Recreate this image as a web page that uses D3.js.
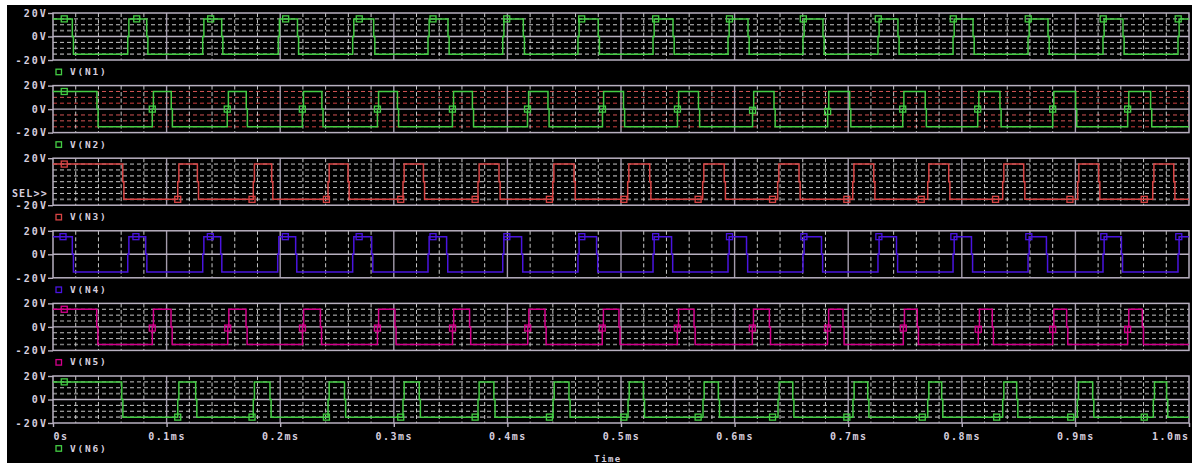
<!DOCTYPE html>
<html>
<head>
<meta charset="utf-8">
<script src="https://cdn.jsdelivr.net/npm/d3@7/dist/d3.min.js"></script>
<style>
  body { margin: 0; background: #fff; }
  svg { display: block; }
  text { font-family: "DejaVu Sans Mono", monospace; font-weight: bold; fill: #d6cede; }
</style>
</head>
<body>
<div id="chart"></div>
<script>
// times in microseconds, voltages in volts
const timeTicks = [0, 100, 200, 300, 400, 500, 600, 700, 800, 900, 1000];
const timeLabels = ["0s", "0.1ms", "0.2ms", "0.3ms", "0.4ms", "0.5ms", "0.6ms", "0.7ms", "0.8ms", "0.9ms", "1.0ms"];
const voltTicks = [20, 0, -20];
const voltLabels = ["20V", "0V", "-20V"];
const gridVolts = [15, 10, 5, -5, -10, -15];
const names = ["V(N1)", "V(N2)", "V(N3)", "V(N4)", "V(N5)", "V(N6)"];
const colors = ["#44cc44", "#44cc44", "#d84444", "#4a14e0", "#d4008c", "#44cc44"];

// switching instants, every trace starts high (+15V) and toggles at each time
const n1Edges = [17.0, 65.8, 82.5, 131.8, 148.5, 198.3, 215.2, 263.8, 282.3, 330.1, 347.7, 395.9, 414.0, 462.1, 480.0,
  528.2, 545.8, 594.2, 611.8, 660.2, 677.8, 726.2, 743.8, 792.3, 809.9, 858.3, 875.9, 924.3, 941.9, 990.3];
const n2Edges = [38.7, 87.4, 104.1, 153.4, 170.1, 219.5, 236.7, 285.6, 303.2, 351.6, 369.2, 417.7, 435.7, 483.7, 502.2,
  549.7, 568.2, 615.8, 634.7, 681.9, 701.3, 748.0, 767.8, 814.0, 833.6, 880.0, 900.2, 946.0, 966.2];
const n3Edges = [61.4, 109.8, 127.1, 176.3, 192.5, 242.1, 259.7, 308.1, 326.1, 374.1, 392.6, 439.9, 458.7, 505.9, 525.3,
  571.9, 590.9, 637.9, 656.7, 704.0, 722.5, 770.0, 788.5, 836.0, 854.5, 902.0, 920.5, 968.1, 986.6];
const n4Edges = [17.0, 65.8, 81.6, 131.8, 147.6, 197.8, 213.6, 263.8, 280.5, 330.1, 346.5, 395.9, 412.5, 462.1, 478.5,
  528.2, 544.5, 594.2, 610.5, 660.2, 676.5, 726.2, 742.5, 792.3, 808.5, 858.3, 874.5, 924.3, 940.5, 990.3];
const n5Edges = [38.5, 87.4, 103.9, 153.8, 169.9, 219.6, 235.4, 285.6, 301.0, 351.7, 366.7, 417.9, 433.1, 483.5, 498.2,
  549.6, 564.3, 615.6, 630.6, 681.8, 695.4, 748.5, 760.8, 814.5, 826.8, 880.0, 892.3, 946.0, 958.9];
const n6Edges = [60.5, 109.8, 125.6, 176.3, 191.0, 242.1, 256.6, 308.1, 322.4, 374.1, 388.1, 440.2, 454.2, 506.2, 519.7,
  572.2, 585.7, 638.2, 651.2, 704.2, 717.2, 770.0, 782.3, 836.0, 848.3, 901.7, 915.2, 968.6, 980.3];

// trace markers [time, volts]
const n1Marks = [[9.9, 15], [73.7, 15], [138.8, 15], [204.8, 15], [269.6, 15], [334.5, 15], [399.4, 15], [465.4, 15],
  [530.5, 15], [595.5, 15], [660.5, 15], [726.5, 15], [792.5, 15], [858.5, 15], [924.5, 15], [990.5, 15]];
const n2Marks = [[9.9, 15], [87.4, 0], [153.4, 0], [219.5, 0], [285.6, 0], [351.6, 0], [417.7, 0], [483.7, 0],
  [549.7, 0], [615.8, -1], [681.9, -2], [748.0, 0], [814.0, 0], [880.0, 0], [946.0, 0]];
const n3Marks = [[9.9, 15], [109.8, -15], [175.2, -15], [240.7, -15], [306.1, -15], [371.6, -15], [437.0, -15], [502.5, -15],
  [567.9, -15], [633.4, -15], [698.8, -15], [764.3, -15], [829.7, -15], [895.2, -15], [960.6, -15]];
const n4Marks = [[8.8, 15], [73.0, 15], [138.5, 15], [204.5, 15], [269.5, 15], [334.5, 15], [399.5, 15], [465.5, 15],
  [530.5, 15], [595.5, 15], [661.0, 15], [727.0, 15], [793.0, 15], [859.0, 15], [925.0, 15], [991.0, 15]];
const n5Marks = [[9.9, 15], [87.4, -1], [153.8, -1], [219.6, -1], [285.6, -1], [351.7, -1], [417.9, -1], [483.5, -1],
  [549.6, -1], [615.6, -1], [681.8, -1], [748.5, -1], [814.5, -2], [880.0, -2], [946.0, -2]];
const n6Marks = [[9.9, 15], [109.8, -15], [175.2, -15], [240.7, -15], [306.1, -15], [371.6, -15], [437.0, -15], [502.5, -15],
  [567.9, -15], [633.4, -15], [698.8, -15], [765.2, -15], [830.7, -15], [895.9, -15], [960.6, -15]];

const allEdges = [n1Edges, n2Edges, n3Edges, n4Edges, n5Edges, n6Edges];
const allMarks = [n1Marks, n2Marks, n3Marks, n4Marks, n5Marks, n6Marks];

const W = 1192, H = 463;
const left = 53, right = 1189;
const top0 = 13, panelH = 47, panelStep = 72.6;
const frame = "#b8b0c0";

const svg = d3.select("#chart").append("svg")
  .attr("width", W)
  .attr("height", H);

svg.append("rect").attr("width", W).attr("height", H).attr("fill", "#fff");
svg.append("rect").attr("x", 7).attr("y", 5).attr("width", W - 7).attr("height", H - 5).attr("fill", "#000");

const x = d3.scaleLinear().domain([0, 1000]).range([left, right]);
const minorTimes = d3.range(20, 1000, 20).filter(t => t % 100 !== 0);

// edge list -> points, with the short 0V step PSpice shows on every switch
function wavePoints(edges) {
  const pts = [[0, 15]];
  let level = 15;
  edges.forEach(t => {
    pts.push([t, 0]);
    level = -level;
    pts.push([t + 1, level]);
  });
  pts.push([1000, level]);
  return pts;
}

names.forEach((name, i) => {
  const top = top0 + i * panelStep;
  const bottom = top + panelH;
  const y = d3.scaleLinear().domain([-20, 20]).range([bottom, top]);
  const g = svg.append("g");

  g.append("clipPath").attr("id", "clip" + i)
    .append("rect").attr("x", left).attr("y", top).attr("width", right - left).attr("height", panelH);

  // horizontal dotted grid
  if (i !== 3) {
    const hv = i === 2 ? [15, 10, 5, 0, -5, -10, -15] : gridVolts;
    g.selectAll(".hgrid").data(hv).join("line")
      .attr("x1", left).attr("x2", right)
      .attr("y1", d => y(d)).attr("y2", d => y(d))
      .attr("stroke", d => {
        const dim = d === 5 || d === -15;
        if (i === 1) return dim ? "#8a2a2a" : "#d05454";
        return dim ? "#7c7c7c" : "#c4c4c4";
      })
      .attr("stroke-width", d => (d === 5 || d === -15) ? 1.6 : 1)
      .attr("stroke-dasharray", "4,3");
  }

  // vertical dotted grid
  g.selectAll(".vgrid").data(minorTimes).join("line")
    .attr("x1", d => x(d)).attr("x2", d => x(d))
    .attr("y1", top).attr("y2", bottom)
    .attr("stroke", "#c8c8c8")
    .attr("stroke-dasharray", "4,2.5");

  // major time lines
  g.selectAll(".vmajor").data(timeTicks.slice(1, -1)).join("line")
    .attr("x1", d => x(d)).attr("x2", d => x(d))
    .attr("y1", top).attr("y2", bottom)
    .attr("stroke", "#a49cac")
    .attr("stroke-width", 1.4);

  if (i !== 2) {
    g.append("line")
      .attr("x1", left).attr("x2", right)
      .attr("y1", y(0)).attr("y2", y(0))
      .attr("stroke", frame).attr("stroke-width", 1.4);
  }

  g.append("rect")
    .attr("x", left).attr("y", top)
    .attr("width", right - left).attr("height", panelH)
    .attr("fill", "none")
    .attr("stroke", frame)
    .attr("stroke-width", 1.5);

  const line = d3.line()
    .x(d => x(d[0]))
    .y(d => y(d[1]))
    .curve(d3.curveStepAfter);

  g.append("path")
    .datum(wavePoints(allEdges[i]))
    .attr("clip-path", `url(#clip${i})`)
    .attr("fill", "none")
    .attr("stroke", colors[i])
    .attr("stroke-width", 1.5)
    .attr("d", line);

  g.selectAll(".mark").data(allMarks[i]).join("rect")
    .attr("x", d => x(d[0]) - 3)
    .attr("y", d => y(d[1]) - 3)
    .attr("width", 6).attr("height", 6)
    .attr("fill", "none")
    .attr("stroke", colors[i])
    .attr("stroke-width", 1.3);

  // y axis
  const ticks = i === 2 ? [20, -20] : voltTicks;
  const yAxis = g.append("g")
    .attr("transform", `translate(${left},0)`)
    .call(d3.axisLeft(y).tickValues(ticks).tickSize(5).tickPadding(0)
      .tickFormat(d => voltLabels[voltTicks.indexOf(d)]));
  yAxis.select(".domain").remove();
  yAxis.selectAll("line").attr("stroke", frame).attr("stroke-width", 1.4);
  yAxis.selectAll("text")
    .attr("fill", "#d6cede")
    .style("font-family", "'DejaVu Sans Mono', monospace")
    .style("font-weight", "bold")
    .style("font-size", "10px")
    .style("letter-spacing", "2.1px");

  if (i === 2) {
    g.append("text")
      .attr("x", 48).attr("y", y(-10) + 3.5)
      .attr("text-anchor", "end")
      .style("font-size", "10px")
      .style("letter-spacing", "1.2px")
      .text("SEL>>");
  }

  // legend
  const ly = i === 5 ? bottom + 28.5 : bottom + 15;
  g.append("rect")
    .attr("x", 56).attr("y", ly - 5.8)
    .attr("width", 5.5).attr("height", 5.5)
    .attr("fill", "none")
    .attr("stroke", colors[i])
    .attr("stroke-width", 1.3);
  g.append("text")
    .attr("x", 70).attr("y", ly)
    .style("font-size", "9.5px")
    .style("letter-spacing", "1.8px")
    .text(name);

  if (i === 5) {
    const xAxis = g.append("g")
      .attr("transform", `translate(0,${bottom})`)
      .call(d3.axisBottom(x).tickValues(timeTicks).tickSize(4).tickPadding(6)
        .tickFormat((d, k) => timeLabels[k]));
    xAxis.select(".domain").remove();
    xAxis.selectAll("line").attr("stroke", frame).attr("stroke-width", 1.4);
    xAxis.selectAll("text")
      .attr("fill", "#d6cede")
      .attr("text-anchor", (d, k) => k === 0 ? "start" : (k === timeTicks.length - 1 ? "end" : "middle"))
      .style("font-family", "'DejaVu Sans Mono', monospace")
      .style("font-weight", "bold")
      .style("font-size", "10px")
      .style("letter-spacing", "1.5px");
  }
});

svg.append("text")
  .attr("x", 608).attr("y", 462)
  .attr("text-anchor", "middle")
  .style("font-size", "9px")
  .style("letter-spacing", "1.4px")
  .text("Time");
</script>
</body>
</html>
